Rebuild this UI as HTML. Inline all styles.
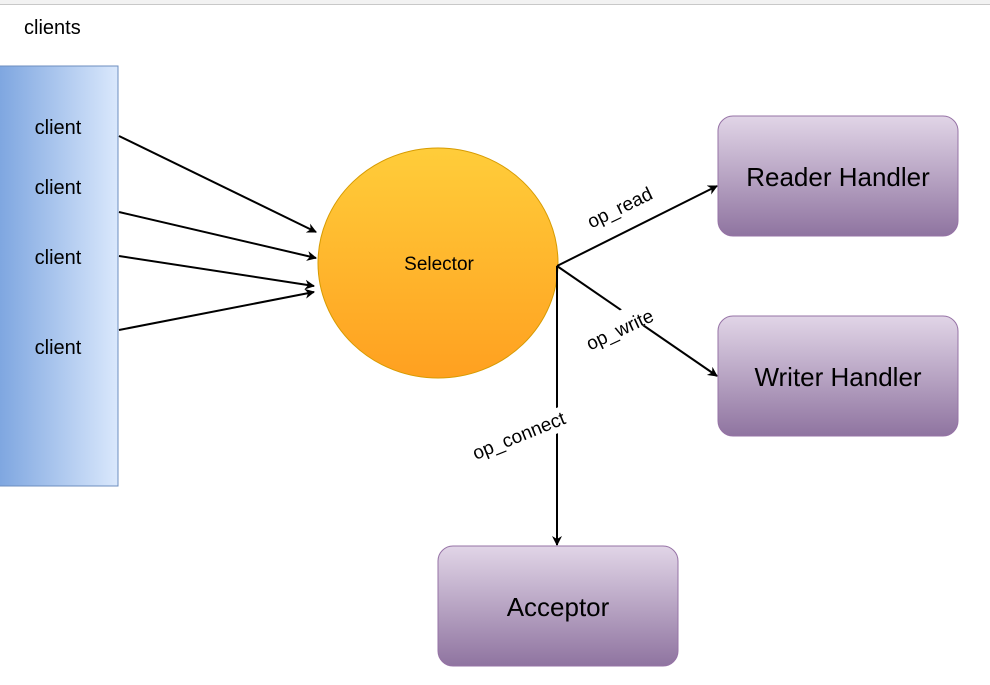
<!DOCTYPE html>
<html><head><meta charset="utf-8"><style>body{margin:0;background:#fff}svg{display:block}text{font-family:"Liberation Sans",Arial,sans-serif}</style></head><body>
<svg width="990" height="685" viewBox="0 0 990 685" xmlns="http://www.w3.org/2000/svg">
<defs>
<linearGradient id="cb" x1="0" x2="1" y1="0" y2="0"><stop offset="0" stop-color="#7ea6e0"/><stop offset="1" stop-color="#dae8fc"/></linearGradient>
<linearGradient id="sel" x1="0" x2="0" y1="0" y2="1"><stop offset="0" stop-color="#ffcd3a"/><stop offset="1" stop-color="#ffa020"/></linearGradient>
<linearGradient id="pu" x1="0" x2="0" y1="0" y2="1"><stop offset="0" stop-color="#e1d5e7"/><stop offset="1" stop-color="#8f74a0"/></linearGradient>
<marker id="ar" markerWidth="10" markerHeight="10" refX="9" refY="5" orient="auto" markerUnits="userSpaceOnUse"><path d="M0,0 L10,5 L0,10 L3,5 z" fill="#000"/></marker>
</defs>
<rect x="0" y="0" width="990" height="4" fill="#f2f2f2"/>
<line x1="0" y1="4.5" x2="990" y2="4.5" stroke="#c8c8c8"/>
<text x="24" y="34" font-size="20">clients</text>
<rect x="-1" y="66" width="119" height="420" fill="url(#cb)" stroke="#6c8ebf"/>
<text x="58" y="134" font-size="20" text-anchor="middle">client</text>
<text x="58" y="194" font-size="20" text-anchor="middle">client</text>
<text x="58" y="264" font-size="20" text-anchor="middle">client</text>
<text x="58" y="354" font-size="20" text-anchor="middle">client</text>
<ellipse cx="438" cy="263" rx="120" ry="115" fill="url(#sel)" stroke="#d79b00"/>
<text x="439" y="270" font-size="19" text-anchor="middle">Selector</text>
<g stroke="#000" stroke-width="2" fill="none">
<line x1="119" y1="136" x2="316" y2="232" marker-end="url(#ar)"/>
<line x1="119" y1="212" x2="316" y2="258" marker-end="url(#ar)"/>
<line x1="119" y1="256" x2="314" y2="286" marker-end="url(#ar)"/>
<line x1="119" y1="330" x2="314" y2="292" marker-end="url(#ar)"/>
<line x1="557" y1="266" x2="717" y2="186" marker-end="url(#ar)"/>
<line x1="557" y1="266" x2="717" y2="376" marker-end="url(#ar)"/>
<line x1="557" y1="266" x2="557" y2="545" marker-end="url(#ar)"/>
</g>
<rect x="718" y="116" width="240" height="120" rx="15" fill="url(#pu)" stroke="#9673a6"/>
<text x="838" y="186" font-size="26" text-anchor="middle">Reader Handler</text>
<rect x="718" y="316" width="240" height="120" rx="15" fill="url(#pu)" stroke="#9673a6"/>
<text x="838" y="386" font-size="26" text-anchor="middle">Writer Handler</text>
<rect x="438" y="546" width="240" height="120" rx="15" fill="url(#pu)" stroke="#9673a6"/>
<text x="558" y="616" font-size="26" text-anchor="middle">Acceptor</text>
<rect x="576" y="312" width="86" height="24" fill="#fff" transform="rotate(-25 619 324)"/>
<text x="620" y="214" font-size="19" text-anchor="middle" transform="rotate(-26 620 208)">op_read</text>
<text x="620" y="336" font-size="19" text-anchor="middle" transform="rotate(-25 620 330)">op_write</text>
<rect x="460" y="424" width="118" height="24" fill="#fff" transform="rotate(-22 519 436)"/>
<text x="519" y="442" font-size="19" text-anchor="middle" transform="rotate(-22 519 436)">op_connect</text>
</svg>
</body></html>
